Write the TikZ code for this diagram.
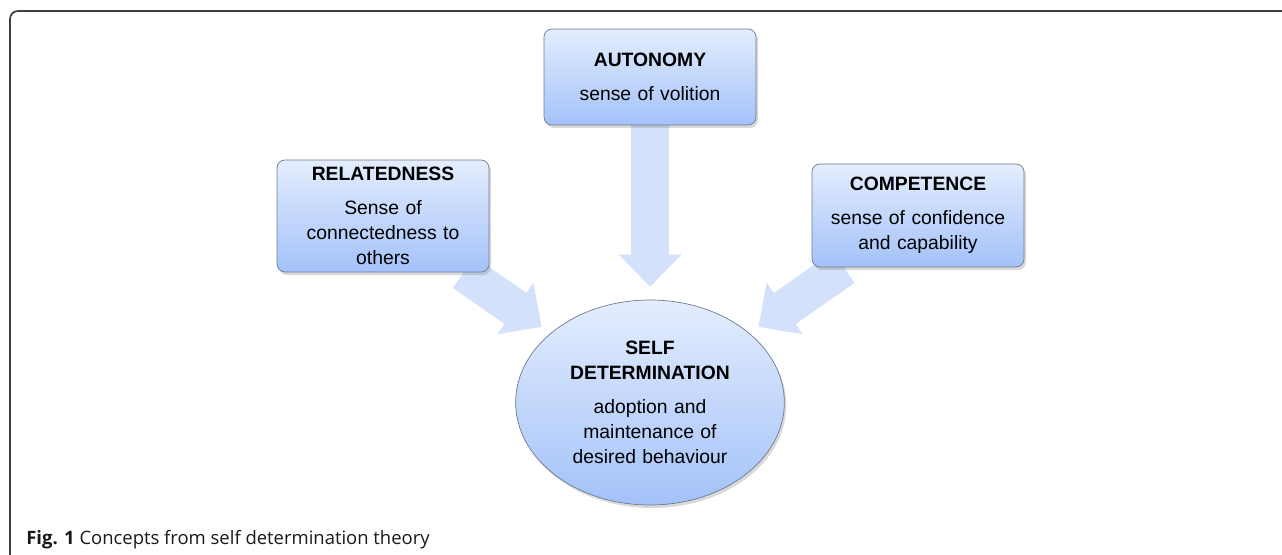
\documentclass[tikz,border=0pt]{standalone}
\usepackage{fontspec}
\setmainfont{Liberation Sans}
\newfontfamily\capfont{Open Sans}
\usetikzlibrary{shapes.geometric,shadows,arrows.meta,backgrounds}

\definecolor{boxtop}{HTML}{E4EDFD}
\definecolor{boxbot}{HTML}{A3C2F9}
\definecolor{boxline}{HTML}{6E7B8E}
\definecolor{arrowfill}{HTML}{D3E2FA}

\tikzstyle{need}=[shape=rectangle,
                rounded corners=0.16cm,
                draw=boxline,
                top color=boxtop,
                bottom color=boxbot,
                minimum width=4.24cm,
                text width=4.0cm,
                align=center,
                font=\fontsize{11}{14.2}\selectfont,
                drop shadow={shadow xshift=0.04cm,shadow yshift=-0.06cm,opacity=0.3}]
\tikzstyle{goal}=[shape=ellipse,
                draw=boxline,
                top color=boxtop,
                bottom color=boxbot,
                minimum width=5.36cm,
                minimum height=4.1cm,
                inner sep=0pt,
                text width=3.8cm,
                align=center,
                font=\fontsize{11}{14.2}\selectfont,
                drop shadow={shadow xshift=0.04cm,shadow yshift=-0.06cm,opacity=0.3}]
\tikzstyle{fat}=[draw=arrowfill,
                line width=0.76cm,
                -{Triangle[width=1.26cm,length=0.64cm,line width=0pt,fill=arrowfill]},
                shorten >=0.22cm]

\begin{document}
\begin{tikzpicture}
\useasboundingbox (0,0) rectangle (25.64,11.08);

\draw[black!75,line width=1pt,rounded corners=0.16cm]
  (0.2,-0.1) -- (0.2,10.86) -- (25.8,10.86);

\node[need,minimum height=1.92cm] (aut) at (13.0,9.54)
  {\textbf{AUTONOMY}\\[0.18cm] sense of volition};
\node[need,minimum height=2.24cm] (rel) at (7.66,6.76)
  {\textbf{RELATEDNESS}\\[0.18cm] Sense of\\connectedness to\\others};
\node[need,minimum height=2.06cm] (com) at (18.36,6.77)
  {\textbf{COMPETENCE}\\[0.18cm] sense of confidence\\and capability};
\node[goal] (sd) at (13.0,3.03)
  {\textbf{SELF\\DETERMINATION}\\[0.18cm] adoption and\\maintenance of\\desired behaviour};

\begin{scope}[on background layer]
\path[fat] (aut) edge[shorten >=0.26cm] (sd)
           (rel) edge (sd)
           (com) edge (sd);
\end{scope}

\node[anchor=base west,inner sep=0pt,text=black!90,font=\capfont\fontsize{10.5}{13}\selectfont]
  (cap) at (0.52,0.2) {\textbf{Fig. 1} Concepts from self determination theory};
\end{tikzpicture}
\end{document}
